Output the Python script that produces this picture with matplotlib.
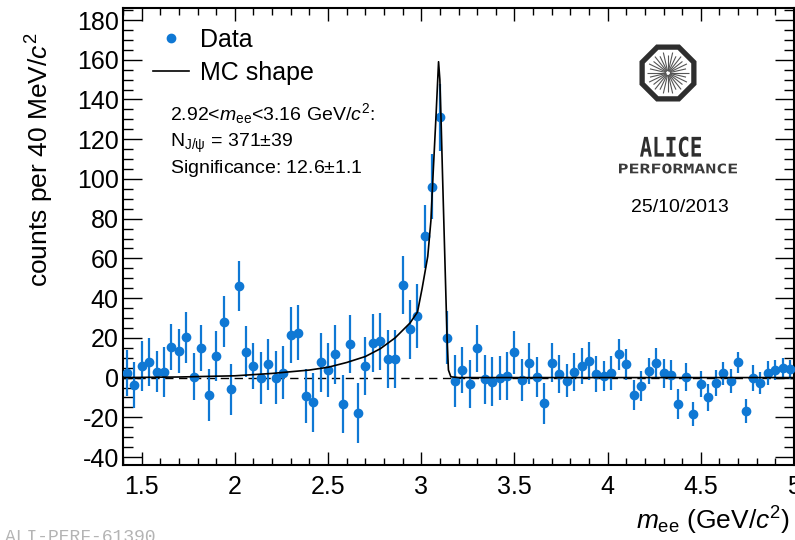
import numpy as np
import matplotlib
matplotlib.use('Agg')
import matplotlib.pyplot as plt
from matplotlib.ticker import MultipleLocator, FixedLocator
from matplotlib.patches import RegularPolygon, PathPatch
from matplotlib.textpath import TextPath
from matplotlib.font_manager import FontProperties
from matplotlib.transforms import Affine2D
from matplotlib.lines import Line2D

plt.rcParams['font.family'] = ['Liberation Sans', 'DejaVu Sans']
plt.rcParams['mathtext.fontset'] = 'custom'
plt.rcParams['mathtext.rm'] = 'Liberation Sans'
plt.rcParams['mathtext.it'] = 'Liberation Sans:italic'
plt.rcParams['mathtext.bf'] = 'Liberation Sans:bold'
plt.rcParams['axes.unicode_minus'] = False

# ---------------- data ----------------
bin_width = 0.04
mass = np.round(1.42 + bin_width * np.arange(90), 3)   # bin centres (GeV/c^2)

counts = [2.1, -3.8, 5.9, 8.0, 2.9, 2.9, 15.5, 13.3, 20.2, 0.4,
          15.0, -8.8, 10.8, 28.1, -5.9, 46.2, 13.0, 5.8, -0.1, 6.6,
          -0.1, 2.4, 21.4, 22.6, -9.3, -12.5, 7.6, 3.8, 11.8, -13.3,
          17.0, -18.0, 5.8, 17.5, 18.2, 9.3, 9.3, 46.6, 24.3, 31.1,
          71.2, 96.1, 131.0, 20.0, -1.6, 3.8, -3.3, 14.7, -0.9, -2.1,
          -0.4, 0.9, 12.7, -1.3, 7.1, 0.1, -13.0, 7.5, 1.8, -1.6,
          2.9, 5.9, 8.3, 1.8, 0.8, 2.4, 11.7, 6.6, -8.8, -4.3,
          3.3, 7.5, 2.1, 1.3, -13.3, 0.4, -18.3, -3.4, -10.0, -2.9,
          2.1, -1.8, 7.6, -16.8, -0.1, -2.6, 2.4, 3.8, 4.9, 4.1]

errors = [11.6, 11.6, 12.5, 12.0, 10.3, 12.5, 11.7, 11.2, 12.7, 11.9,
          11.6, 13.3, 12.6, 12.9, 12.8, 12.5, 12.8, 11.7, 13.2, 12.6,
          13.4, 13.4, 14.3, 13.8, 13.4, 14.9, 14.7, 13.4, 14.9, 14.7,
          14.7, 15.1, 14.8, 14.7, 14.3, 14.5, 14.7, 14.4, 14.9, 16.2,
          15.9, 16.4, 17.0, 13.3, 13.0, 11.6, 12.0, 12.0, 12.2, 12.3,
          11.1, 12.0, 10.9, 10.7, 10.3, 10.1, 10.5, 9.8, 9.6, 8.4,
          9.4, 9.2, 9.5, 9.1, 7.6, 8.4, 7.8, 7.6, 7.7, 7.7,
          6.5, 7.3, 7.3, 7.7, 7.6, 6.9, 6.1, 6.5, 6.6, 6.5,
          5.8, 6.2, 5.2, 5.9, 6.4, 5.5, 5.9, 5.0, 5.1, 4.6]

mc_mass = [1.40, 1.50, 1.70, 1.90, 2.00, 2.20, 2.40, 2.50, 2.60, 2.70,
           2.78, 2.86, 2.94, 2.98, 3.005, 3.035, 3.052, 3.064, 3.079, 3.093,
           3.100, 3.107, 3.114, 3.123, 3.132, 3.139, 3.146, 3.159, 3.20, 5.00]
mc_counts = [0.0, 0.1, 0.3, 0.7, 0.9, 2.1, 3.8, 5.2, 7.6, 10.6,
             14.5, 20.0, 27.5, 33.0, 45.0, 61.0, 79.0, 103.0, 131.0, 159.0,
             150.0, 128.0, 103.0, 72.6, 42.4, 18.9, 3.8, 0.4, 0.0, 0.0]

xticks = [1.5, 2.0, 2.5, 3.0, 3.5, 4.0, 4.5, 5.0]
xticklabels = ['1.5', '2', '2.5', '3', '3.5', '4', '4.5', '5']
yticks = [-40, -20, 0, 20, 40, 60, 80, 100, 120, 140, 160, 180]

blue = '#0f78d4'

# ---------------- figure ----------------
W, H = 795, 540
fig = plt.figure(figsize=(W / 100, H / 100), dpi=100)
fig.patch.set_facecolor('white')

def fx(x):
    return x / W

def fy(y):
    return 1 - y / H

ax_l, ax_r, ax_t, ax_b = 123, 794, 7.5, 465
ax = fig.add_axes([fx(ax_l), fy(ax_b), (ax_r - ax_l) / W, (ax_b - ax_t) / H])
ax.set_xlim(1.40, 5.0)
ax.set_ylim(-44, 186.3)

ax.axhline(0, color='k', lw=1.0, ls=(0, (6, 4)), zorder=1)
ax.errorbar(mass, counts, yerr=errors, fmt='o', color=blue, ms=6.0,
            elinewidth=1.6, capsize=0, zorder=3)
ax.plot(mc_mass, mc_counts, color='k', lw=1.2, zorder=4)

ax.xaxis.set_major_locator(FixedLocator(xticks))
ax.set_xticklabels(xticklabels)
ax.xaxis.set_minor_locator(MultipleLocator(0.1))
ax.yaxis.set_major_locator(FixedLocator(yticks))
ax.yaxis.set_minor_locator(MultipleLocator(5))

ax.tick_params(which='both', direction='in', top=True, right=True,
               labelsize=18, width=1.0)
ax.xaxis.set_tick_params(which='major', length=9.5, pad=7)
ax.xaxis.set_tick_params(which='minor', length=5)
ax.yaxis.set_tick_params(which='major', length=14, pad=3)
ax.yaxis.set_tick_params(which='minor', length=7)
for s in ax.spines.values():
    s.set_linewidth(1.5)

ax.set_ylabel(r'counts per 40 MeV/$c^{2}$', fontsize=19)
ax.yaxis.set_label_coords((40 - ax_l) / (ax_r - ax_l), (ax_b - 160) / (ax_b - ax_t))
ax.yaxis.label.set_verticalalignment('center')

ax.set_xlabel(r'$m_{\rm ee}$ (GeV/$c^{2}$)', fontsize=19)
ax.xaxis.set_label_coords((790 - ax_l) / (ax_r - ax_l), (ax_b - 521) / (ax_b - ax_t))
ax.xaxis.label.set_horizontalalignment('right')
ax.xaxis.label.set_verticalalignment('center')

# legend
h_data = Line2D([], [], marker='o', ls='none', color=blue, ms=6.0)
h_mc = Line2D([], [], color='k', lw=1.2)
ax.legend([h_data, h_mc], ['Data', 'MC shape'], loc='upper left',
          bbox_to_anchor=(fx(153), fy(28)), bbox_transform=fig.transFigure,
          frameon=False, fontsize=18, handlelength=1.45, handletextpad=0.45,
          labelspacing=0.35, borderpad=0, borderaxespad=0)

# annotation text
fig.text(fx(170), fy(120), r'2.92<$m_{\rm ee}$<3.16 GeV/$c^{2}$:', fontsize=14,
         ha='left', va='baseline')
fig.text(fx(170), fy(147), r'N$_{\rm J/\psi}$ = 371$\pm$39', fontsize=14,
         ha='left', va='baseline')
fig.text(fx(170), fy(173), r'Significance: 12.6$\pm$1.1', fontsize=14,
         ha='left', va='baseline')

# ---------------- logo overlay (pixel coordinates) ----------------
ov = fig.add_axes([0, 0, 1, 1], facecolor='none')
ov.set_xlim(0, W)
ov.set_ylim(H, 0)
ov.axis('off')

cx, cy = 668, 73
ov.add_patch(RegularPolygon((cx, cy), numVertices=8, radius=28.0,
                            orientation=np.pi / 8, fill=False,
                            ec='#2e2e2e', lw=3.8))
for i, a in enumerate(np.linspace(0, 2 * np.pi, 28, endpoint=False)):
    r1 = 21 if i % 2 == 0 else 18.5
    ov.plot([cx + 2.0 * np.cos(a), cx + r1 * np.cos(a)],
            [cy + 2.0 * np.sin(a), cy + r1 * np.sin(a)],
            color='#555555', lw=0.8, solid_capstyle='butt')


def fit_text(s, x0, y0, x1, y1, family, color, weight='normal'):
    tp = TextPath((0, 0), s, size=20, prop=FontProperties(family=family, weight=weight))
    bb = tp.get_extents()
    sx = (x1 - x0) / bb.width
    sy = (y1 - y0) / bb.height
    tr = Affine2D().translate(-bb.x0, -bb.y0).scale(sx, -sy).translate(x0, y1)
    ov.add_patch(PathPatch(tr.transform_path(tp), fc=color, ec='none'))


fit_text('ALICE', 640, 136.5, 701, 157, 'DejaVu Sans Mono', '#2e2e2e', weight='bold')
fit_text('PERFORMANCE', 619, 163.5, 737, 173.5, 'DejaVu Sans Mono', '#3a3a3a', weight='bold')

fig.text(fx(680), fy(207), '25/10/2013', fontsize=14, ha='center', va='center')

fig.text(fx(5), fy(529), 'ALI-PERF-61390', fontsize=13, family='Liberation Mono',
         color='#b4b4b4', ha='left', va='top')

fig.savefig('out.png', dpi=100)
